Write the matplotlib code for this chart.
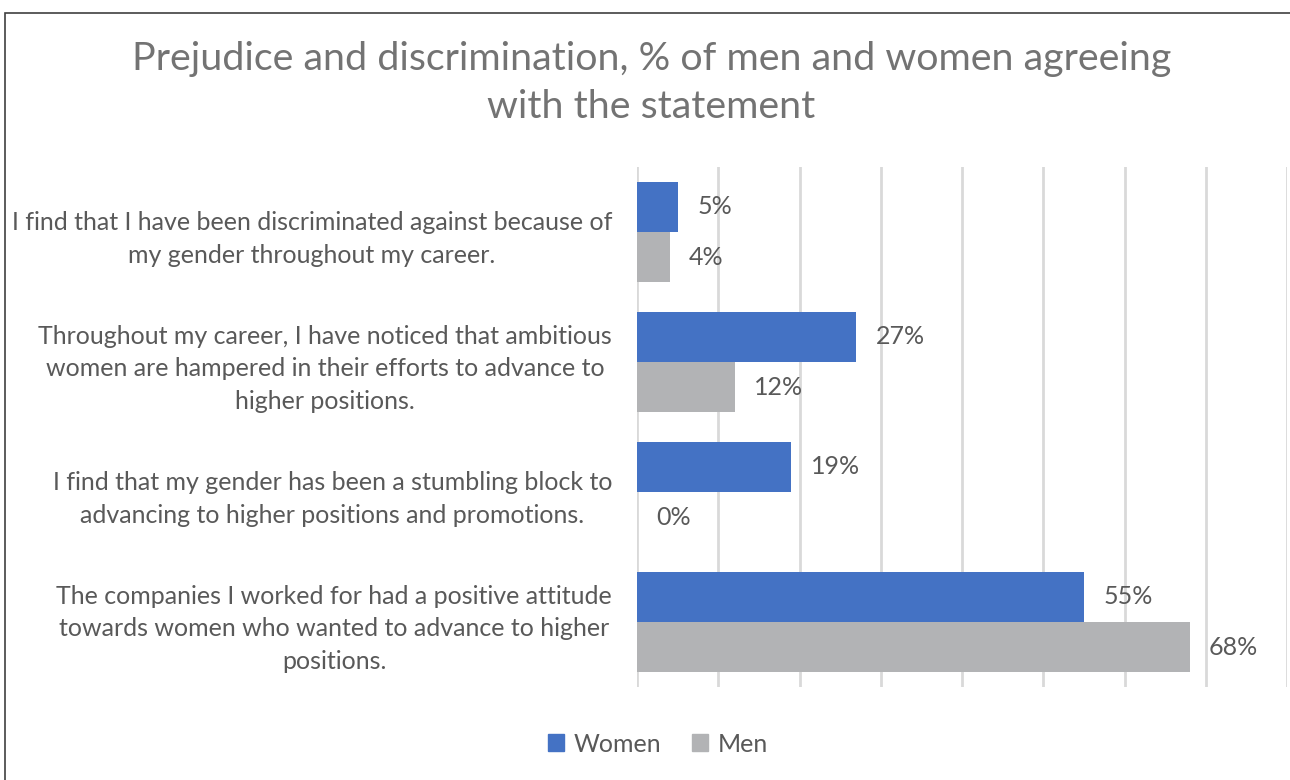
import numpy as np
import matplotlib.pyplot as plt
from matplotlib.patches import Patch, Rectangle

# survey statements (top to bottom) and share agreeing, in %
statements = [
    "I find that I have been discriminated against because of\nmy gender throughout my career.",
    "Throughout my career, I have noticed that ambitious\nwomen are hampered in their efforts to advance to\nhigher positions.",
    "I find that my gender has been a stumbling block to\nadvancing to higher positions and promotions.",
    "The companies I worked for had a positive attitude\ntowards women who wanted to advance to higher\npositions.",
]
women = [5, 27, 19, 55]
men = [4, 12, 0, 68]

BLUE = '#4472C4'
GREY = '#B2B3B5'
TXT = '#595959'
FONT = 'Lato'

plt.rcParams['font.family'] = FONT

fig = plt.figure(figsize=(12.9, 7.8), dpi=100)
ax = fig.add_axes([0.4938, 0.1192, 0.5039, 0.6667])

y = np.arange(len(statements))
h = 0.385
bw = ax.barh(y - h / 2, women, height=h, color=BLUE, zorder=3)
bm = ax.barh(y + h / 2, men, height=h, color=GREY, zorder=3)

for bars, vals in ((bw, women), (bm, men)):
    for b, v in zip(bars, vals):
        ax.annotate(f"{v}%", (v, b.get_y() + b.get_height() / 2),
                    xytext=(14, 0), textcoords='offset points',
                    va='center', ha='left', fontsize=18, color=TXT)

ax.set_xlim(0, 80)
ax.set_ylim(len(statements) - 0.5, -0.5)
ax.set_xticks(np.arange(0, 81, 10))
ax.set_xticklabels([])
ax.grid(axis='x', color='#D9D9D9', linewidth=2, zorder=0)
ax.tick_params(length=0)
for s in ax.spines.values():
    s.set_visible(False)

ax.set_yticks(y)
ax.set_yticklabels(statements, fontsize=18, color=TXT)
ax.tick_params(axis='y', pad=18)
for lab in ax.get_yticklabels():
    lab.set_multialignment('center')
    lab.set_linespacing(1.5)

fig.text(0.505, 0.894, "Prejudice and discrimination, % of men and women agreeing\nwith the statement",
         ha='center', va='center', fontsize=28.4, color='#737373', linespacing=1.41)

handles = [Patch(color=BLUE, label='Women'), Patch(color=GREY, label='Men')]
fig.legend(handles=handles, loc='center', bbox_to_anchor=(0.51, 0.046), ncol=2,
           frameon=False, fontsize=18, labelcolor=TXT, handlelength=0.65,
           handleheight=0.65, handletextpad=0.4, columnspacing=1.2)

# thin frame around the chart area
fig.patches.append(Rectangle((5 / 1290, -0.01), 1.02, 0.9936, transform=fig.transFigure,
                             fill=False, edgecolor='#404040', linewidth=1.2))

fig.savefig('out.png', dpi=100)
